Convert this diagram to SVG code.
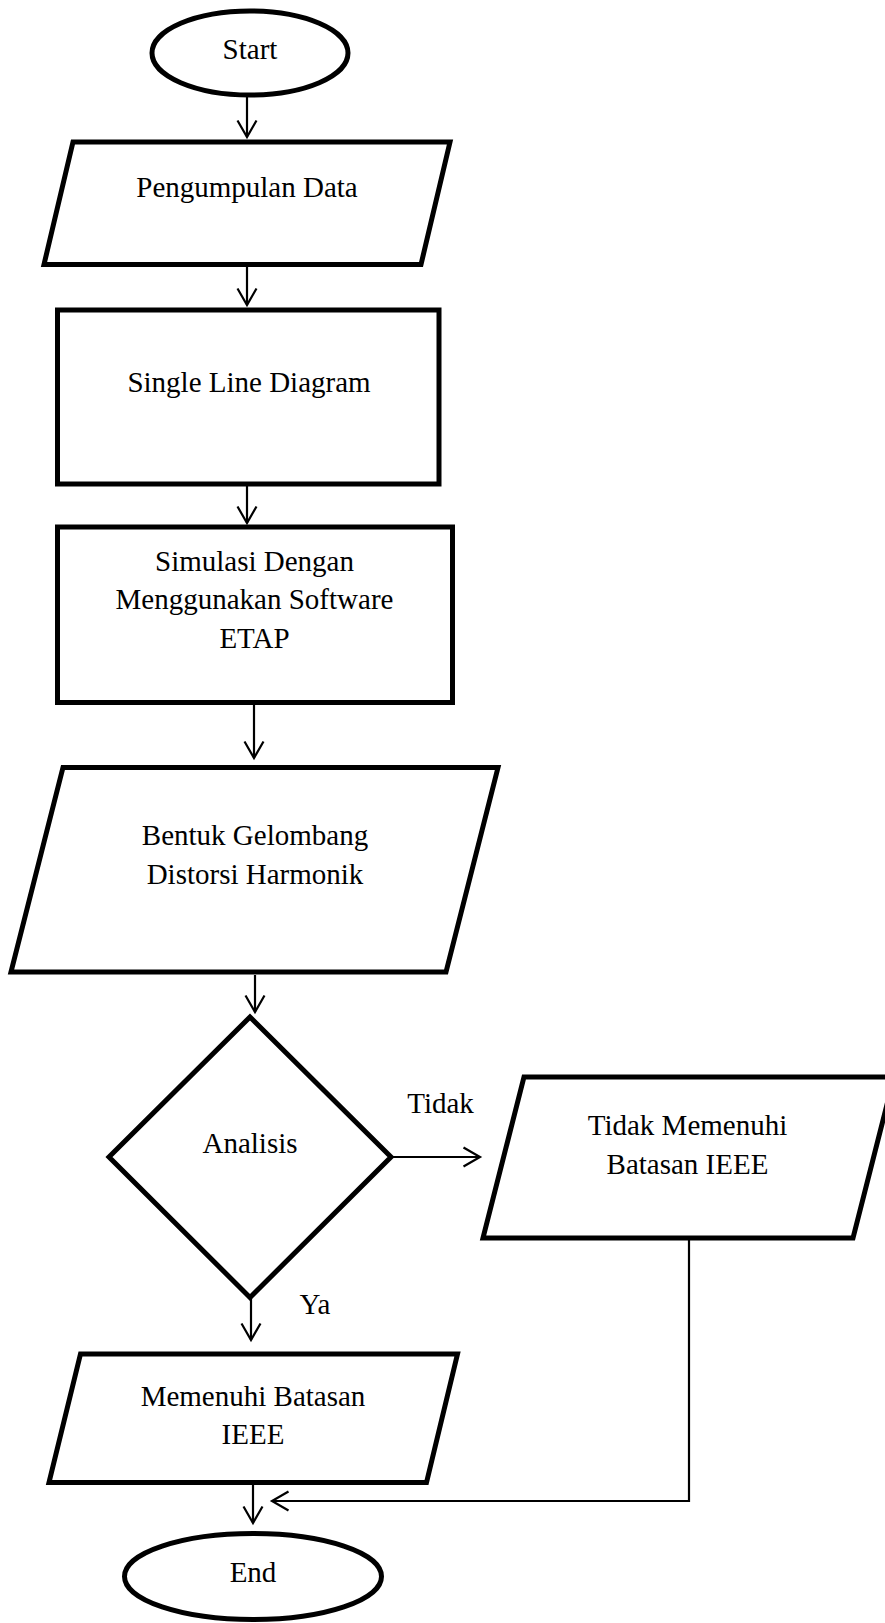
<svg xmlns="http://www.w3.org/2000/svg" width="885" height="1623" viewBox="0 0 885 1623">
<style>
.shape{fill:#fff;stroke:#000;stroke-width:5;stroke-linejoin:miter}
.conn{fill:none;stroke:#000;stroke-width:2.2}
text{font-family:"Liberation Serif","Times New Roman",serif;font-size:29px;fill:#000;text-anchor:middle}
</style>
<defs>
<marker id="arr" markerUnits="userSpaceOnUse" markerWidth="22" markerHeight="24" refX="18" refY="11" orient="auto" viewBox="0 0 22 24">
<path d="M1.5,1.5 L18,11 L1.5,20.5" fill="none" stroke="#000" stroke-width="2.2"/>
</marker>
</defs>
<rect width="885" height="1623" fill="#fff"/>
<g id="connectors">
<line class="conn" x1="247" y1="97" x2="247" y2="137" marker-end="url(#arr)"/>
<line class="conn" x1="247" y1="267" x2="247" y2="305" marker-end="url(#arr)"/>
<line class="conn" x1="247" y1="486" x2="247" y2="523" marker-end="url(#arr)"/>
<line class="conn" x1="254" y1="705" x2="254" y2="758" marker-end="url(#arr)"/>
<line class="conn" x1="255" y1="975" x2="255" y2="1012" marker-end="url(#arr)"/>
<line class="conn" x1="251" y1="1298" x2="251" y2="1340" marker-end="url(#arr)"/>
<line class="conn" x1="391" y1="1157" x2="480" y2="1157" marker-end="url(#arr)"/>
<polyline class="conn" points="689,1237 689,1501 272,1501" marker-end="url(#arr)"/>
<line class="conn" x1="253" y1="1485" x2="253" y2="1523" marker-end="url(#arr)"/>
</g>
<g id="start">
<ellipse class="shape" cx="250" cy="53" rx="98" ry="42" stroke-width="4.5"/>
<text x="250" y="59">Start</text>
</g>
<g id="pengumpulan">
<polygon class="shape" points="73,142 450,142 421,264.5 44,264.5"/>
<text x="247" y="197">Pengumpulan Data</text>
</g>
<g id="sld">
<rect class="shape" x="57.5" y="310" width="381.5" height="174"/>
<text x="249" y="392">Single Line Diagram</text>
</g>
<g id="simulasi">
<rect class="shape" x="57.5" y="527" width="395" height="175.5"/>
<text x="254.5" y="571">Simulasi Dengan</text>
<text x="254.5" y="609">Menggunakan Software</text>
<text x="254.5" y="648">ETAP</text>
</g>
<g id="bentuk">
<polygon class="shape" points="63,767.5 498,767.5 446,972 11,972"/>
<text x="255" y="845">Bentuk Gelombang</text>
<text x="255" y="883.5">Distorsi Harmonik</text>
</g>
<g id="analisis">
<polygon class="shape" points="250,1017 391,1157 250,1297.5 109,1157"/>
<text x="250" y="1153">Analisis</text>
</g>
<g id="label-tidak">
<text x="440.5" y="1113">Tidak</text>
</g>
<g id="tidak-memenuhi">
<polygon class="shape" points="524,1077 894,1077 853,1238 483,1238"/>
<text x="687.5" y="1135">Tidak Memenuhi</text>
<text x="687.5" y="1173.5">Batasan IEEE</text>
</g>
<g id="label-ya">
<text x="315" y="1314">Ya</text>
</g>
<g id="memenuhi">
<polygon class="shape" points="80.5,1354 457.5,1354 426.5,1482.5 49,1482.5"/>
<text x="253" y="1406">Memenuhi Batasan</text>
<text x="253" y="1444">IEEE</text>
</g>
<g id="end">
<ellipse class="shape" cx="253" cy="1576.5" rx="128.5" ry="43"/>
<text x="253" y="1582">End</text>
</g>
</svg>
